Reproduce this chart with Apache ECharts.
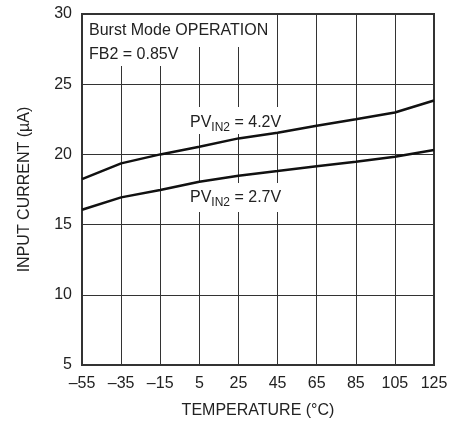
<!DOCTYPE html>
<html><head><meta charset="utf-8">
<script src="https://cdn.jsdelivr.net/npm/echarts@6/dist/echarts.min.js"></script>
<style>html,body{margin:0;padding:0;background:#fff}#c{width:466px;height:424px}</style>
</head><body><div id="c"></div>
<script>
var temps = [-55, -35, -15, 5, 25, 45, 65, 85, 105, 125];
var pv42 = [18.24, 19.36, 20.0, 20.55, 21.14, 21.54, 22.04, 22.5, 22.98, 23.84];
var pv27 = [16.06, 16.94, 17.46, 18.05, 18.48, 18.81, 19.15, 19.48, 19.83, 20.31];
var xTicks = [-55, -35, -15, 5, 25, 45, 65, 85, 105, 125];
var yTicks = [5, 10, 15, 20, 25, 30];

var FONT = '"Liberation Sans Narrow", "Liberation Sans", Arial, sans-serif';
var chart = echarts.init(document.getElementById('c'), null, {renderer: 'canvas'});
function pairs(xs, ys){ return xs.map(function(x,i){return [x, ys[i]];}); }
var txt = {fontFamily: FONT, fontSize: 16, fill: '#222'};
var rich = {a: {fontFamily: FONT, fontSize: 16, fill: '#222', verticalAlign: 'bottom'},
            s: {fontFamily: FONT, fontSize: 12, fill: '#222', verticalAlign: 'bottom', padding: [0,0,-3,0]}};
function box(x, y, w, h){ return {type: 'rect', z: 50, silent: true, shape: {x: x, y: y, width: w, height: h}, style: {fill: '#fff'}}; }
chart.setOption({
  animation: false,
  grid: {left: 82, right: 32, top: 14, bottom: 58, show: true, borderColor: '#333', borderWidth: 2},
  xAxis: {
    type: 'value', min: xTicks[0], max: xTicks[xTicks.length-1], interval: 20,
    axisLine: {show: false}, axisTick: {show: false},
    splitLine: {show: true, lineStyle: {color: '#333', width: 1}},
    axisLabel: {fontFamily: FONT, fontSize: 16, color: '#222', margin: 11,
      formatter: function(v){ return v < 0 ? '\u2013' + (-v) : String(v); }},
    name: 'TEMPERATURE (\u00b0C)', nameLocation: 'middle', nameGap: 38,
    nameTextStyle: {fontFamily: FONT, fontSize: 16, color: '#222'}
  },
  yAxis: {
    type: 'value', min: yTicks[0], max: yTicks[yTicks.length-1], interval: 5,
    axisLine: {show: false}, axisTick: {show: false},
    splitLine: {show: true, lineStyle: {color: '#333', width: 1}},
    axisLabel: {fontFamily: FONT, fontSize: 16, color: '#222', margin: 10},
    name: 'INPUT CURRENT (\u00b5A)', nameLocation: 'middle', nameGap: 49,
    nameTextStyle: {fontFamily: FONT, fontSize: 16, color: '#222'}
  },
  series: [
    {type: 'line', data: pairs(temps, pv42), symbol: 'none', lineStyle: {color: '#111', width: 2.5}, z: 60},
    {type: 'line', data: pairs(temps, pv27), symbol: 'none', lineStyle: {color: '#111', width: 2.5}, z: 60}
  ],
  graphic: [
    box(83, 15, 190, 32),
    box(83, 47, 101, 19),
    box(186, 107, 102, 27),
    box(186, 183, 102, 29),
    {type: 'text', left: 89, top: 23, z: 70, style: Object.assign({}, txt, {text: 'Burst Mode OPERATION'})},
    {type: 'text', left: 89, top: 47, z: 70, style: Object.assign({}, txt, {text: 'FB2 = 0.85V'})},
    {type: 'text', left: 190, top: 115, z: 70, style: {text: '{a|PV}{s|IN2}{a| = 4.2V}', rich: rich}},
    {type: 'text', left: 190, top: 190, z: 70, style: {text: '{a|PV}{s|IN2}{a| = 2.7V}', rich: rich}}
  ]
});
</script></body></html>
